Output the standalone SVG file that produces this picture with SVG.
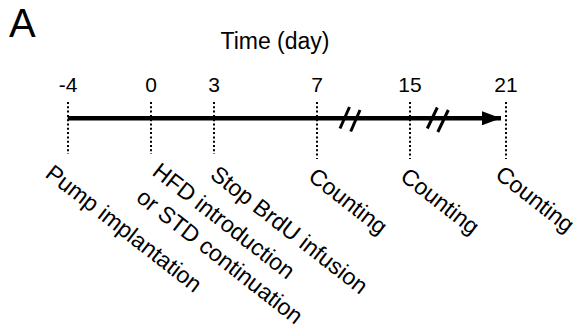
<svg xmlns="http://www.w3.org/2000/svg" width="579" height="329" viewBox="0 0 579 329">
<style>
text{font-family:"Liberation Sans",Arial,sans-serif;fill:#000}
.lbl{font-size:23px}
.tick{font-size:21px;text-anchor:middle}
.dot{stroke:#000;stroke-width:2;stroke-dasharray:2 2.3;fill:none}
.slash{stroke:#000;stroke-width:3;fill:none}
</style>
<defs>
<marker id="ah" markerWidth="20" markerHeight="14" refX="19" refY="7" orient="auto" markerUnits="userSpaceOnUse">
<path d="M0,0 L19,7 L0,14 Z" fill="#000"/>
</marker>
</defs>
<rect width="579" height="329" fill="#fff"/>
<text x="9" y="37" font-size="40">A</text>
<text x="275" y="49" font-size="23" text-anchor="middle">Time (day)</text>
<g id="connectors">
<line x1="67.7" y1="118.3" x2="501" y2="118.3" stroke="#000" stroke-width="4.5" marker-end="url(#ah)"/>
<line class="slash" x1="340" y1="128.5" x2="349.5" y2="107"/>
<line class="slash" x1="350.7" y1="131.5" x2="360" y2="110"/>
<line class="slash" x1="427.3" y1="128.5" x2="437.3" y2="107.5"/>
<line class="slash" x1="437.8" y1="132" x2="448.3" y2="110"/>
</g>
<g id="tick-m4"><line class="dot" x1="68" y1="102" x2="68" y2="154"/><text class="tick" x="68" y="92">-4</text></g>
<g id="tick-0"><line class="dot" x1="151" y1="102" x2="151" y2="154"/><text class="tick" x="151" y="92">0</text></g>
<g id="tick-3"><line class="dot" x1="214" y1="102" x2="214" y2="154"/><text class="tick" x="214" y="92">3</text></g>
<g id="tick-7"><line class="dot" x1="317" y1="102" x2="317" y2="159"/><text class="tick" x="317" y="92">7</text></g>
<g id="tick-15"><line class="dot" x1="410" y1="102" x2="410" y2="159"/><text class="tick" x="410" y="92">15</text></g>
<g id="tick-21"><line class="dot" x1="506" y1="102" x2="506" y2="159"/><text class="tick" x="506" y="92">21</text></g>
<g id="label-pump"><text class="lbl" transform="translate(44,176) rotate(38)">Pump implantation</text></g>
<g id="label-hfd"><text class="lbl" transform="translate(151,174) rotate(38)">HFD introduction</text><text class="lbl" transform="translate(135,200) rotate(38)">or STD continuation</text></g>
<g id="label-stop"><text class="lbl" transform="translate(209,177) rotate(38)">Stop BrdU infusion</text></g>
<g id="label-c7"><text class="lbl" transform="translate(307,179) rotate(38)">Counting</text></g>
<g id="label-c15"><text class="lbl" transform="translate(399,179) rotate(38)">Counting</text></g>
<g id="label-c21"><text class="lbl" transform="translate(494,177) rotate(38)">Counting</text></g>
</svg>
